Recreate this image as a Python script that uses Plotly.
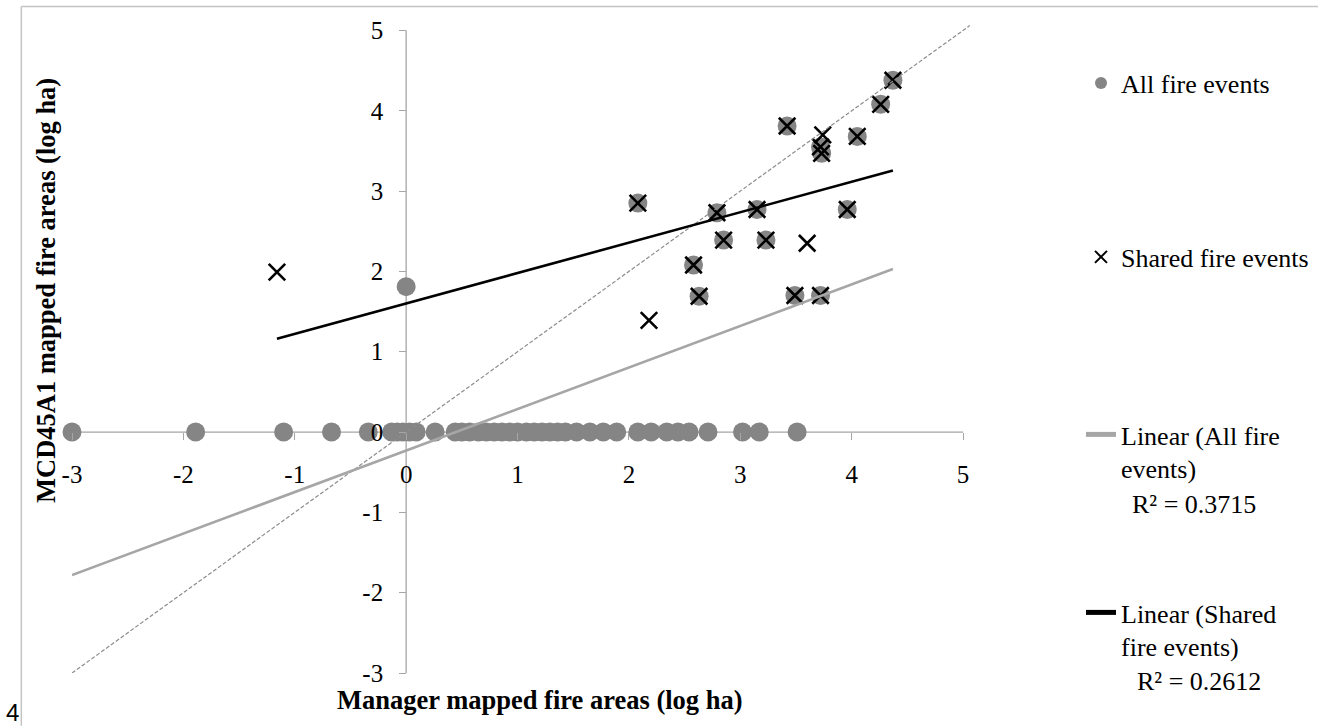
import plotly.graph_objects as go

# ---------------- data ----------------
all_x = [-3.00, -1.89, -1.10, -0.67, -0.34, -0.13, -0.08, -0.03, 0.03, 0.09,
         0.26, 0.44, 0.50, 0.57, 0.65, 0.72, 0.79, 0.86, 0.93, 1.00,
         1.08, 1.15, 1.22, 1.29, 1.36, 1.43, 1.53, 1.65, 1.77, 1.89,
         2.08, 2.20, 2.34, 2.44, 2.54, 2.71, 3.02, 3.17, 3.51,
         0.00, 2.08, 2.58, 2.63, 2.79, 2.85, 3.15, 3.23, 3.42, 3.49,
         3.72, 3.72, 3.73, 3.96, 4.05, 4.26, 4.37]
all_y = [0.0] * 39 + [
         1.81, 2.85, 2.08, 1.69, 2.73, 2.39, 2.77, 2.39, 3.81, 1.70,
         1.70, 3.55, 3.47, 2.77, 3.68, 4.08, 4.38]

shared_x = [-1.16, 2.08, 2.18, 2.58, 2.63, 2.79, 2.85, 3.15, 3.23, 3.42,
            3.49, 3.60, 3.72, 3.74, 3.72, 3.73, 3.96, 4.05, 4.26, 4.37]
shared_y = [1.99, 2.85, 1.39, 2.08, 1.69, 2.73, 2.39, 2.77, 2.39, 3.81,
            1.70, 2.35, 1.70, 3.70, 3.55, 3.47, 2.77, 3.68, 4.08, 4.38]

trend_all = {"slope": 0.517, "intercept": -0.23, "r2": "0.3715"}
trend_shared = {"slope": 0.379, "intercept": 1.60, "r2": "0.2612"}
one_to_one = [-3.0, 5.06]

x_ticks = [-3, -2, -1, 0, 1, 2, 3, 4, 5]
y_ticks = [-3, -2, -1, 0, 1, 2, 3, 4, 5]

# ---------------- layout helpers ----------------
W, H = 1318, 726
X0_PX, X_UNIT = 71.7, 111.4          # pixel of x=-3, pixels per unit
Y0_PX, Y_UNIT = 673.2, 80.3          # pixel of y=-3, pixels per unit
XMAX = 5.08
left = X0_PX
right = X0_PX + (XMAX - x_ticks[0]) * X_UNIT
bottom = Y0_PX
top = Y0_PX - (XMAX - y_ticks[0]) * Y_UNIT
pw, ph = right - left, bottom - top

def px(x):
    return (x - left) / pw

def py(y):
    return (bottom - y) / ph

def cx(x):
    return x / W

def cy(y):
    return 1 - y / H

SERIF = "Liberation Serif"
FS_TICK = 25
FS_LEG = 26
FS_TITLE = 26.5
AX_GRAY = "#a6a6a6"

fig = go.Figure()

fig.add_trace(go.Scatter(
    x=all_x, y=all_y, mode="markers", name="All fire events",
    marker=dict(symbol="circle", size=19, color="#858585"),
    cliponaxis=False, legend="legend"))

fig.add_trace(go.Scatter(
    x=shared_x, y=shared_y, mode="markers", name="Shared fire events",
    marker=dict(symbol="x-thin", size=16.5, color="black",
                line=dict(color="black", width=2.6)),
    cliponaxis=False, legend="legend2"))

fig.add_trace(go.Scatter(
    x=one_to_one, y=one_to_one, mode="lines", showlegend=False,
    line=dict(color="#8c8c8c", width=1.2, dash="4px,2px"), hoverinfo="skip"))

ta_x = [min(all_x), max(all_x)]
fig.add_trace(go.Scatter(
    x=ta_x, y=[trend_all["slope"] * v + trend_all["intercept"] for v in ta_x],
    mode="lines", name="Linear (All fire<br>events)",
    line=dict(color="#a6a6a6", width=2.6), legend="legend3"))

ts_x = [min(shared_x), max(shared_x)]
fig.add_trace(go.Scatter(
    x=ts_x, y=[trend_shared["slope"] * v + trend_shared["intercept"] for v in ts_x],
    mode="lines", name="Linear (Shared<br>fire events)",
    line=dict(color="black", width=2.6), legend="legend4"))

zero_frac = (0 - x_ticks[0]) / (XMAX - x_ticks[0])

axis_common = dict(
    range=[x_ticks[0], XMAX], showgrid=False, zeroline=False, showline=False,
    ticks="outside", ticklen=7, tickwidth=1, tickcolor=AX_GRAY,
    tickfont=dict(family=SERIF, size=FS_TICK, color="black"),
    anchor="free", position=zero_frac, domain=[0, 1], automargin=False)

leg_common = dict(font=dict(family=SERIF, size=FS_LEG, color="black"),
                  bgcolor="rgba(0,0,0,0)", borderwidth=0, itemsizing="constant",
                  xanchor="left", valign="top", xref="container", yref="container")

LEG_X = 1081
fig.update_layout(
    width=W, height=H, template="none",
    paper_bgcolor="white", plot_bgcolor="white",
    margin=dict(l=left, r=W - right, t=top, b=H - bottom, pad=0, autoexpand=False),
    xaxis=dict(axis_common, tickvals=x_ticks, ticktext=[str(t) for t in x_ticks],
               ticklabelstandoff=13),
    yaxis=dict(axis_common, range=[y_ticks[0], XMAX], tickvals=y_ticks,
               ticktext=[str(t) for t in y_ticks], ticklabelstandoff=11),
    legend=dict(leg_common, x=cx(LEG_X), y=cy(83), yanchor="middle"),
    legend2=dict(leg_common, x=cx(LEG_X), y=cy(257), yanchor="middle"),
    legend3=dict(leg_common, x=cx(LEG_X), y=cy(411), yanchor="top"),
    legend4=dict(leg_common, x=cx(LEG_X), y=cy(589), yanchor="top"),
    showlegend=True,
)

# axis lines crossing at zero
fig.add_shape(type="line", xref="x", yref="y", x0=x_ticks[0], x1=x_ticks[-1], y0=0, y1=0,
              line=dict(color=AX_GRAY, width=1.3), layer="below")
fig.add_shape(type="line", xref="x", yref="y", x0=0, x1=0, y0=y_ticks[0], y1=y_ticks[-1],
              line=dict(color=AX_GRAY, width=1.3), layer="below")

# page frame lines
fig.add_shape(type="line", xref="paper", yref="paper", x0=px(21), x1=px(W), y0=py(7), y1=py(7),
              line=dict(color="#c4c4c4", width=1.5))
fig.add_shape(type="line", xref="paper", yref="paper", x0=px(21), x1=px(21), y0=py(7), y1=py(H),
              line=dict(color="#c4c4c4", width=1.5))

ann = [
    dict(text="R² = " + trend_all["r2"], x=px(1130), y=py(505), xanchor="left", yanchor="middle",
         font=dict(family=SERIF, size=FS_LEG, color="black")),
    dict(text="R² = " + trend_shared["r2"], x=px(1135), y=py(682), xanchor="left", yanchor="middle",
         font=dict(family=SERIF, size=FS_LEG, color="black")),
    dict(text="<b>Manager mapped fire areas (log ha)</b>", x=px(540), y=py(700),
         xanchor="center", yanchor="middle", font=dict(family=SERIF, size=FS_TITLE, color="black")),
    dict(text="<b>MCD45A1 mapped fire areas (log ha)</b>", x=px(45), y=py(291), textangle=-90,
         xanchor="center", yanchor="middle", font=dict(family=SERIF, size=FS_TITLE, color="black")),
    dict(text="4", x=px(12.5), y=py(713), xanchor="center", yanchor="middle",
         font=dict(family="Liberation Sans", size=24, color="black")),
]
for a in ann:
    fig.add_annotation(xref="paper", yref="paper", showarrow=False, **a)

fig.write_html("out.html", config={"displayModeBar": False})
